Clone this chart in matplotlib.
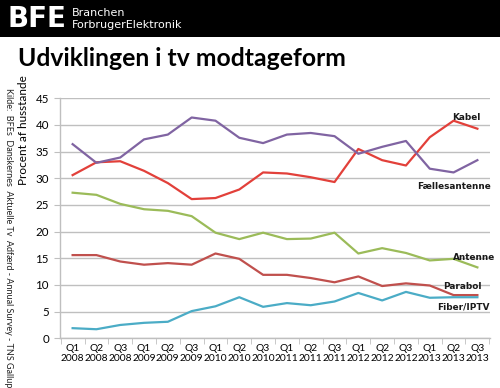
import numpy as np
import matplotlib.pyplot as plt
from matplotlib.patches import Rectangle

#=====Data=====
quarters = ['Q1', 'Q2', 'Q3'] * 6
years = ['2008'] * 3 + ['2009'] * 3 + ['2010'] * 3 + ['2011'] * 3 + ['2012'] * 3 + ['2013'] * 3

kabel = [30.6, 33.0, 33.2, 31.4, 29.1, 26.1, 26.3, 27.9, 31.1, 30.9, 30.2, 29.3,
         35.5, 33.4, 32.4, 37.7, 40.8, 39.3]
faelles = [36.4, 32.9, 33.9, 37.3, 38.2, 41.4, 40.8, 37.6, 36.6, 38.2, 38.5, 37.9,
           34.6, 35.9, 37.0, 31.8, 31.1, 33.4]
antenne = [27.3, 26.9, 25.2, 24.2, 23.9, 22.9, 19.8, 18.6, 19.8, 18.6, 18.7, 19.8,
           15.9, 16.9, 16.0, 14.6, 14.9, 13.3]
parabol = [15.6, 15.6, 14.4, 13.8, 14.1, 13.8, 15.9, 14.9, 11.9, 11.9, 11.3, 10.5,
           11.6, 9.8, 10.3, 9.9, 8.1, 8.1]
fiber = [1.9, 1.7, 2.5, 2.9, 3.1, 5.1, 6.0, 7.7, 5.9, 6.6, 6.2, 6.9,
         8.5, 7.1, 8.7, 7.6, 7.7, 7.7]

series = [
    ('Kabel', kabel, '#E2403A', (16.55, 41.4)),
    ('Fællesantenne', faelles, '#8064A2', (16.0, 28.55)),
    ('Antenne', antenne, '#9BBB59', (16.85, 15.2)),
    ('Parabol', parabol, '#C0504D', (16.35, 9.7)),
    ('Fiber/IPTV', fiber, '#4BACC6', (16.4, 5.9)),
]

#=====Figure=====
fig = plt.figure(figsize=(5, 3.88), dpi=100)
fig.patch.set_facecolor('white')

#=====Header band=====
fig.patches.append(Rectangle((0, 1 - 37 / 388), 1, 37 / 388, transform=fig.transFigure,
                             facecolor='black', edgecolor='none', zorder=0))
fig.text(7 / 500, 1 - 19 / 388, 'BFE', color='white', fontsize=20, fontweight='bold',
         family='DejaVu Sans', va='center', ha='left')
fig.text(72 / 500, 1 - 13 / 388, 'Branchen', color='white', fontsize=8,
         family='DejaVu Sans', va='center', ha='left')
fig.text(72 / 500, 1 - 25 / 388, 'ForbrugerElektronik', color='white', fontsize=8,
         family='DejaVu Sans', va='center', ha='left')

#=====Title=====
fig.text(18 / 500, 1 - 58 / 388, 'Udviklingen i tv modtageform', color='black',
         fontsize=17.8, fontweight='bold', family='Lato', va='center', ha='left')

#=====Source and axis label=====
fig.text(8 / 500, 1 - 88 / 388,
         'Kilde:  BFEs  Danskernes  Aktuelle Tv  Adfærd - Annual Survey - TNS Gallup',
         rotation=270, fontsize=6.5, family='Lato', va='top', ha='center', color='#222222')
fig.text(24 / 500, 1 - 130 / 388, 'Procent af husstande', rotation=90, fontsize=8.5,
         family='Lato', va='center', ha='center')

#=====Axes=====
ax = fig.add_axes([60 / 500, 1 - 338.3 / 388, 430 / 500, 240 / 388])
x = np.arange(len(kabel))
for name, vals, col, pos in series:
    ax.plot(x, vals, color=col, lw=1.6, solid_joinstyle='round')
    ax.text(pos[0], pos[1], name, fontsize=6.4, fontweight='bold', family='DejaVu Sans',
            ha='center', va='center', color='#1a1a1a')

ax.set_ylim(0, 45)
ax.set_xlim(-0.53, 17.53)
ax.set_yticks(np.arange(0, 46, 5))
ax.yaxis.grid(True, color='#BFBFBF', lw=1)
ax.set_axisbelow(True)

ax.set_xticks(x)
ax.set_xticklabels([q + '\n' + y for q, y in zip(quarters, years)], fontsize=7.4,
                   family='Lato', linespacing=1.1)
ax.set_xticks(np.arange(-0.5, 18, 1), minor=True)
ax.tick_params(axis='x', which='major', length=0, pad=4)
ax.tick_params(axis='x', which='minor', length=4, color='#BFBFBF', direction='out')
ax.tick_params(axis='y', length=4, color='#BFBFBF', labelsize=8.3, pad=4)
for lbl in ax.get_yticklabels():
    lbl.set_family('Lato')

for s in ['top', 'right']:
    ax.spines[s].set_visible(False)
for s in ['left', 'bottom']:
    ax.spines[s].set_color('#BFBFBF')
    ax.spines[s].set_linewidth(1)

fig.savefig('out.png', dpi=100)
